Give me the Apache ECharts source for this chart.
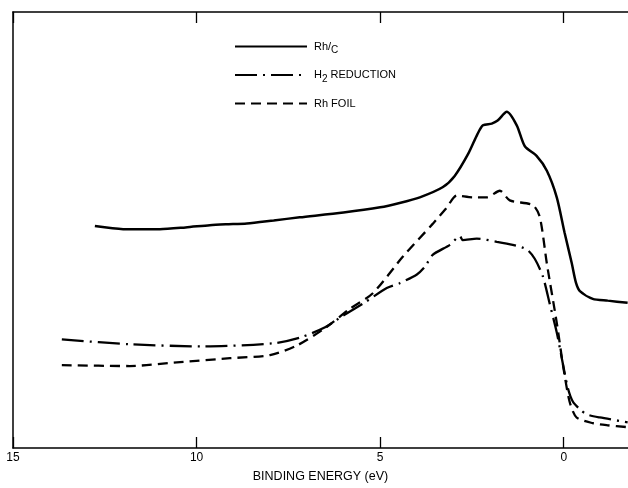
<!DOCTYPE html>
<html>
<head>
<meta charset="utf-8">
<script src="https://cdn.jsdelivr.net/npm/echarts@6/dist/echarts.min.js"></script>
<style>
  html, body { margin: 0; padding: 0; background: #fff; }
  #chart { width: 628px; height: 488px; }
</style>
</head>
<body>
<div id="chart"></div>
<script>
// binding energy (eV) / intensity (arb. units, 0-100)
const rhcX = [12.77, 12.0, 11.0, 10.3, 9.64, 9.2, 8.63, 7.9, 7.19, 6.0, 5.0, 4.47, 3.92, 3.3, 2.97, 2.6, 2.35, 2.2, 1.96, 1.8, 1.55, 1.28, 1.06, 0.74, 0.46, 0.19, -0.02, -0.22, -0.33, -0.44, -0.79, -1.2, -1.74];
const rhcY = [50.9, 50.2, 50.2, 50.6, 51.1, 51.3, 51.5, 52.2, 52.9, 54.0, 55.2, 56.2, 57.5, 59.8, 62.4, 67.5, 72.0, 74.0, 74.4, 75.1, 77.1, 74.0, 69.2, 67.0, 63.6, 57.5, 49.5, 42.3, 38.0, 36.0, 34.2, 33.8, 33.3];

const h2X = [13.67, 11.82, 9.83, 7.92, 7.19, 6.5, 6.02, 5.4, 4.82, 4.47, 4.0, 3.78, 3.57, 3.1, 2.83, 2.75, 2.37, 1.82, 1.39, 1.0, 0.79, 0.57, 0.38, 0.19, 0.04, -0.11, -0.25, -0.45, -0.63, -0.98, -1.74];
const h2Y = [24.9, 23.8, 23.3, 24.0, 25.3, 27.7, 30.3, 33.5, 36.7, 37.8, 39.8, 41.6, 44.3, 46.6, 48.6, 47.7, 48.0, 47.3, 46.6, 45.5, 43.4, 39.4, 33.0, 26.5, 20.0, 13.8, 10.6, 8.8, 7.7, 7.0, 5.9];

const foilX = [13.67, 11.82, 10.45, 9.09, 8.0, 7.27, 6.5, 5.83, 5.2, 4.38, 3.57, 3.2, 2.91, 2.48, 2.1, 1.74, 1.47, 0.84, 0.65, 0.46, 0.19, 0.02, -0.16, -0.35, -0.79, -1.2, -1.71];
const foilY = [19.0, 18.8, 19.7, 20.6, 21.3, 23.5, 27.5, 31.9, 35.5, 43.9, 51.4, 55.0, 57.9, 57.5, 57.5, 59.0, 56.8, 55.7, 52.9, 42.3, 28.7, 19.0, 10.6, 7.0, 5.7, 5.2, 4.8];

const tickValues = [15, 10, 5, 0];
const seriesNames = ['Rh/C', 'H2 REDUCTION', 'Rh FOIL'];

function pairs(xs, ys) {
  return xs.map(function (x, i) { return [x, ys[i]]; });
}

const chart = echarts.init(document.getElementById('chart'));
const font = 'Liberation Sans, Arial, sans-serif';

const xCommon = {
  type: 'value',
  inverse: true,
  min: -1.75,
  max: 15,
  splitLine: { show: false },
  axisLine: { show: true, onZero: false, lineStyle: { color: '#000', width: 1.5 } },
  axisTick: { show: true, inside: true, length: 11, customValues: tickValues, lineStyle: { color: '#000', width: 1.3 } }
};

chart.setOption({
  animation: false,
  backgroundColor: '#fff',
  grid: { left: 13, right: 0, top: 12, bottom: 34 },
  legend: {
    orient: 'vertical',
    left: 229,
    top: 36,
    itemWidth: 72,
    itemHeight: 12,
    itemGap: 14,
    data: seriesNames,
    itemStyle: { opacity: 0 },
    textStyle: {
      fontFamily: font,
      fontSize: 11,
      color: '#000',
      padding: [0, 0, 0, 2],
      rich: {
        t: { fontFamily: font, fontSize: 11, color: '#000' },
        s: { fontFamily: font, fontSize: 10, color: '#000', padding: [8, 0, 0, 0] }
      }
    },
    formatter: function (name) {
      if (name === 'Rh/C') return '{t|Rh/}{s|C}';
      if (name === 'H2 REDUCTION') return '{t|H}{s|2}{t| REDUCTION}';
      return '{t|' + name + '}';
    }
  },
  xAxis: [
    Object.assign({}, xCommon, {
      position: 'bottom',
      name: 'BINDING ENERGY (eV)',
      nameLocation: 'middle',
      nameGap: 22,
      nameTextStyle: { fontFamily: font, fontSize: 12.5, color: '#000' },
      axisLabel: { show: true, customValues: tickValues, margin: 4, fontFamily: font, fontSize: 12, color: '#000' }
    }),
    Object.assign({}, xCommon, {
      position: 'top',
      axisLabel: { show: false }
    })
  ],
  yAxis: {
    type: 'value',
    position: 'left',
    min: 0,
    max: 100,
    axisLine: { show: true, onZero: false, lineStyle: { color: '#000', width: 1.5 } },
    axisTick: { show: false },
    axisLabel: { show: false },
    splitLine: { show: false }
  },
  series: [
    {
      name: seriesNames[0],
      type: 'line',
      data: pairs(rhcX, rhcY),
      showSymbol: false,
      symbol: 'none',
      smooth: 0.25,
      lineStyle: { color: '#000', width: 2.5 },
      itemStyle: { color: '#000' }
    },
    {
      name: seriesNames[1],
      type: 'line',
      data: pairs(h2X, h2Y),
      showSymbol: false,
      symbol: 'none',
      smooth: 0.25,
      lineStyle: { color: '#000', width: 2.3, type: [22, 6, 2, 6] },
      itemStyle: { color: '#000' }
    },
    {
      name: seriesNames[2],
      type: 'line',
      data: pairs(foilX, foilY),
      showSymbol: false,
      symbol: 'none',
      smooth: 0.25,
      lineStyle: { color: '#000', width: 2.3, type: [10, 6] },
      itemStyle: { color: '#000' }
    }
  ]
});
</script>
</body>
</html>
